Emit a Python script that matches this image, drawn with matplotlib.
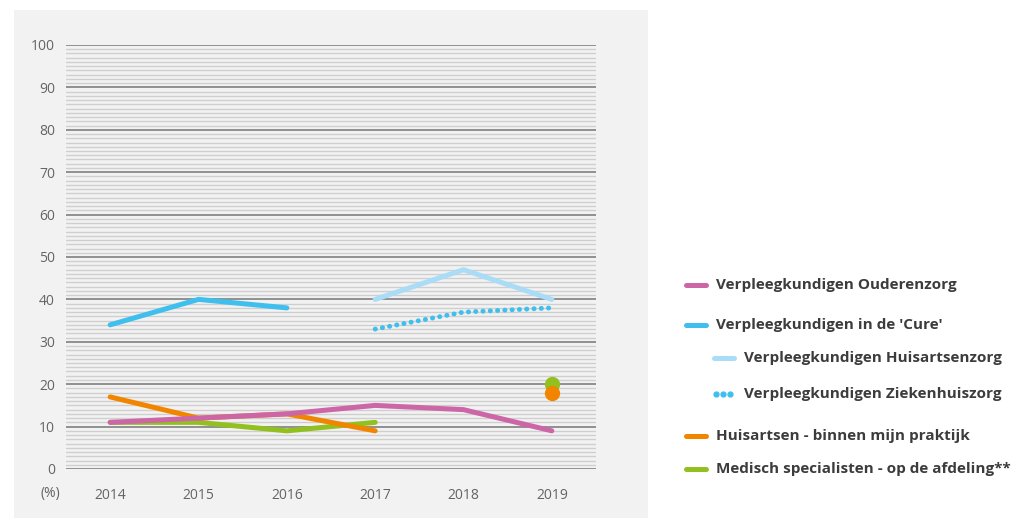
import matplotlib
matplotlib.use("Agg")
import matplotlib.pyplot as plt
from matplotlib.patches import Rectangle
from matplotlib.lines import Line2D
import numpy as np

years = ["2014", "2015", "2016", "2017", "2018", "2019"]
ouderenzorg = [11, 12, 13, 15, 14, 9]
cure = [34, 40, 38, None, None, None]
huisartsenzorg = [None, None, None, 40, 47, 40]
ziekenhuiszorg = [None, None, None, 33, 37, 38]
huisartsen = [17, 12, 13, 9, None, 18]
medisch = [11, 11, 9, 11, None, 20]

labels = ["Verpleegkundigen Ouderenzorg", "Verpleegkundigen in de 'Cure'",
          "Verpleegkundigen Huisartsenzorg", "Verpleegkundigen Ziekenhuiszorg",
          "Huisartsen - binnen mijn praktijk", "Medisch specialisten - op de afdeling**"]

c_pink = "#cc66a6"
c_blue = "#3fbfee"
c_lblue = "#a9dcf6"
c_orange = "#f28500"
c_green = "#92c01f"

plt.rcParams['font.family'] = ['Open Sans', 'DejaVu Sans']

fig = plt.figure(figsize=(10.24, 5.18), dpi=100)
W, H = 1024, 518
# gray panel
fig.patches.append(Rectangle((14 / W, 0), (648 - 14) / W, (518 - 10) / H,
                             transform=fig.transFigure, facecolor="#f2f2f2",
                             edgecolor="none", zorder=-10))

ax = fig.add_axes([66 / W, (518 - 469) / H, (596 - 66) / W, (469 - 45) / H])
ax.set_zorder(5)
ax.set_facecolor("none")
ax.set_xlim(-0.5, 5.5)
ax.set_ylim(0, 100)
for s in ax.spines.values():
    s.set_visible(False)

# grid lines
for v in range(0, 101):
    if v % 10 == 0:
        ax.axhline(v, color="#7f7f7f", lw=1.2, zorder=1)
    else:
        ax.axhline(v, color="#cfcfcf", lw=1.0, zorder=1)

x = np.arange(len(years))

def seg(vals):
    return np.array([np.nan if v is None else v for v in vals], dtype=float)

lw = 3.6
g = seg(medisch)
ax.plot(x[:4], g[:4], color=c_green, lw=lw, solid_capstyle="round", zorder=3)
ax.plot(x[5], g[5], "o", color=c_green, ms=10, zorder=4)
o = seg(huisartsen)
ax.plot(x[:4], o[:4], color=c_orange, lw=lw, solid_capstyle="round", zorder=3)
ax.plot(x[5], o[5], "o", color=c_orange, ms=10, zorder=5)
ax.plot(x, seg(ouderenzorg), color=c_pink, lw=lw, solid_capstyle="round", zorder=4)
ax.plot(x, seg(cure), color=c_blue, lw=lw, solid_capstyle="round", zorder=4)
ax.plot(x, seg(huisartsenzorg), color=c_lblue, lw=lw, solid_capstyle="round", zorder=4)
ax.plot(x, seg(ziekenhuiszorg), color=c_blue, lw=3.5, linestyle=(0, (0.05, 1.45)),
        dash_capstyle="round", zorder=4)

ax.set_xticks(x)
ax.set_xticklabels(years)
ax.set_yticks(range(0, 101, 10))
ax.tick_params(length=0, labelsize=10, labelcolor="#646464")
ax.tick_params(axis="x", pad=14)
ax.tick_params(axis="y", pad=8)
fig.text(50 / W, 1 - 493 / H, "(%)", ha="center", va="center", fontsize=10, color="#646464")

# legend
rows = [
    (285, 686, 706, labels[0], c_pink, "-"),
    (325, 686, 706, labels[1], c_blue, "-"),
    (358, 714, 734, labels[2], c_lblue, "-"),
    (394, 714, 734, labels[3], c_blue, ":"),
    (436, 686, 706, labels[4], c_orange, "-"),
    (469, 686, 706, labels[5], c_green, "-"),
]
for yy, x0, x1, txt, col, ls in rows:
    yf = 1 - yy / H
    if ls == "-":
        fig.add_artist(Line2D([x0 / W, x1 / W], [yf, yf], color=col, lw=3.6,
                              solid_capstyle="round", transform=fig.transFigure))
    else:
        for xx in (x0 + 2, x0 + 9, x0 + 16):
            fig.add_artist(Line2D([xx / W], [yf], marker="o", ms=3.5, color=col,
                                  transform=fig.transFigure))
    fig.text((x1 + 10) / W, yf, txt, ha="left", va="center", fontsize=11,
             fontweight="bold", color="#3c3c3c")

fig.savefig("out.png", dpi=100)
